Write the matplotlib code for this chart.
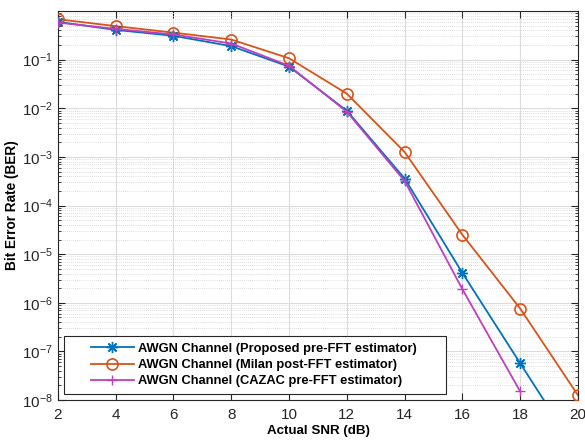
import numpy as np
from matplotlib import pyplot as plt
from matplotlib.patches import Rectangle
from matplotlib.ticker import LogLocator, NullFormatter

plt.rcParams['font.family'] = ['Liberation Sans', 'DejaVu Sans']
plt.rcParams['mathtext.fontset'] = 'custom'
plt.rcParams['mathtext.rm'] = 'Liberation Sans'
plt.rcParams['mathtext.it'] = 'Liberation Sans'
plt.rcParams['mathtext.default'] = 'regular'

snr = [2, 4, 6, 8, 10, 12, 14, 16, 18, 20]
ber_proposed = [0.60, 0.41, 0.31, 0.19, 0.072, 8.9e-3, 3.6e-4, 4.1e-6, 5.7e-8, 8e-10]
ber_milan = [0.68, 0.49, 0.36, 0.26, 0.107, 0.020, 1.26e-3, 2.5e-5, 7.6e-7, 1.25e-8]
snr_cazac = [2, 4, 6, 8, 10, 12, 14, 16, 18]
ber_cazac = [0.58, 0.43, 0.33, 0.215, 0.075, 8.5e-3, 3.2e-4, 1.9e-6, 1.5e-8]

labels = ['AWGN Channel (Proposed pre-FFT estimator)',
          'AWGN Channel (Milan post-FFT estimator)',
          'AWGN Channel (CAZAC pre-FFT estimator)']

fig = plt.figure(figsize=(5.85, 4.43), dpi=100)
ax = fig.add_axes([0.099, 0.097, 0.889, 0.878])

# asterisk marker like matlab's '*'
ax.semilogy(snr, ber_proposed, '-', marker=(8, 2, 0), color='#0072BD', lw=1.3,
            ms=8, mew=1.0, label=labels[0], zorder=4)
ax.semilogy(snr, ber_milan, '-o', color='#D95319', lw=1.3, ms=8,
            mfc='none', mew=1.2, label=labels[1], zorder=3)
ax.semilogy(snr_cazac, ber_cazac, '-+', color='#C03FBF', lw=1.3, ms=7,
            label=labels[2], zorder=5)

ax.set_xlim(2, 20)
ax.set_ylim(1e-8, 1)
ax.set_xticks(range(2, 21, 2))
ax.set_yticks([10.0 ** k for k in range(-8, 0)])
ax.yaxis.set_minor_locator(LogLocator(base=10, subs=np.arange(2, 10), numticks=20))
ax.yaxis.set_minor_formatter(NullFormatter())

ax.grid(True, which='major', color='#DCDCDC', lw=0.8)
ax.grid(True, which='minor', axis='y', color='#D2D2D2', lw=0.6, ls=(0, (1, 1.5)))
ax.set_axisbelow(True)

ax.tick_params(which='both', direction='in', top=True, right=True,
               labelsize=11, colors='#262626')
ax.tick_params(which='major', length=5)
ax.tick_params(axis='x', pad=6)
ax.tick_params(which='minor', length=2.5)
for s in ax.spines.values():
    s.set_color('#262626')
    s.set_linewidth(0.8)

ax.set_xlabel('Actual SNR (dB)', fontsize=9.6, fontweight='bold', labelpad=2)
ax.set_ylabel('Bit Error Rate (BER)', fontsize=9.8, fontweight='bold', labelpad=2)

# legend box drawn separately, matlab style with wide side padding
ax.add_patch(Rectangle((0.0115, 0.0154), 0.735, 0.149, transform=ax.transAxes,
                       facecolor='white', edgecolor='#262626', lw=0.8, zorder=6))
leg = ax.legend(loc='center left', bbox_to_anchor=(0.0635, 0.09),
                prop={'size': 9.3, 'weight': 'bold'}, frameon=False,
                handlelength=3.3, handletextpad=0.35, borderpad=0,
                borderaxespad=0, labelspacing=0.33)
leg.set_zorder(7)

fig.savefig('out.png', dpi=100)
